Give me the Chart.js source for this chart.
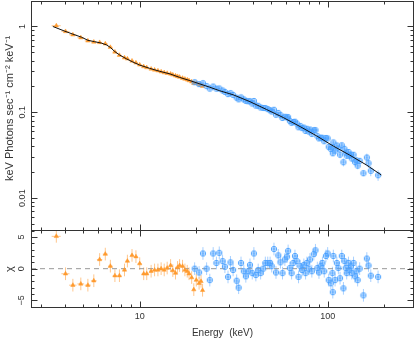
<!DOCTYPE html>
<html>
<head>
<meta charset="utf-8">
<script src="https://cdn.jsdelivr.net/npm/chart.js@4.4.1/dist/chart.umd.min.js"></script>
<style>
  html, body { margin: 0; padding: 0; background: #fff; }
  #wrap { position: relative; width: 415px; height: 342px; }
  canvas { position: absolute; left: 0; }
  #top { top: 0; }
  #bot { top: 230px; }
</style>
</head>
<body>
<div id="wrap">
  <canvas id="top" width="415" height="232"></canvas>
  <canvas id="bot" width="415" height="112"></canvas>
</div>
<script>
// axis limits
const E_MIN = 2.64, E_MAX = 288;
const F_MIN = 0.00414, F_MAX = 1.98;
const CHI_MIN = -6.2, CHI_MAX = 6.1;

// model curve
const modelE = [3.45, 4.0, 4.4, 4.9, 5.3, 5.75, 6.25, 6.65, 6.98, 7.37, 7.82, 8.5, 9.2, 10, 11.3, 12.8, 14.5, 16.3, 18.5, 20.9, 23.6, 26.7, 31.4, 38.6, 47.2, 58, 71.5, 87.5, 107, 131, 161, 193];
const modelF = [1.0, 0.88, 0.815, 0.75, 0.69, 0.665, 0.64, 0.61, 0.57, 0.51, 0.465, 0.42, 0.385, 0.355, 0.325, 0.30, 0.28, 0.255, 0.234, 0.214, 0.196, 0.178, 0.16, 0.133, 0.108, 0.087, 0.068, 0.053, 0.0405, 0.0317, 0.0243, 0.0186];

// low-energy instrument (orange)
const orangeE = [3.6, 4.03, 4.41, 4.86, 5.3, 5.7, 6.12, 6.56, 6.98, 7.38, 7.8, 8.3, 8.6, 9.1, 9.55, 10.0, 10.5, 10.9, 11.5, 12.0, 12.5, 13.0, 13.5, 14.0, 14.6, 15.0, 15.5, 15.9, 16.3, 16.9, 17.4, 17.9, 18.3, 18.9, 19.4, 20.0, 20.7, 21.2, 21.6];
const orangeEErr = [0.2, 0.2, 0.2, 0.2, 0.2, 0.2, 0.2, 0.2, 0.2, 0.2, 0.2, 0.2, 0.2, 0.2, 0.2, 0.25, 0.25, 0.25, 0.25, 0.25, 0.25, 0.25, 0.25, 0.3, 0.3, 0.3, 0.3, 0.3, 0.3, 0.3, 0.3, 0.35, 0.35, 0.35, 0.35, 0.35, 0.35, 0.35, 0.35];
const orangeFlux = [1.02, 0.875, 0.80, 0.74, 0.68, 0.66, 0.652, 0.628, 0.572, 0.505, 0.462, 0.432, 0.42, 0.397, 0.377, 0.357, 0.341, 0.332, 0.32, 0.312, 0.305, 0.297, 0.29, 0.285, 0.28, 0.273, 0.266, 0.262, 0.257, 0.25, 0.244, 0.239, 0.234, 0.227, 0.218, 0.219, 0.211, 0.207, 0.201];
const orangeRes = [5.1, -0.8, -2.6, -2.4, -2.6, -1.9, 1.45, 2.3, 0.4, -1.1, -1.1, -0.2, 1.2, 2.1, 1.9, 0.8, -0.8, -0.8, -0.4, -0.2, -0.2, 0, -0.2, 0.1, 0.5, -0.3, -0.7, 0.2, 0.5, 0.4, -0.2, -0.4, -0.8, -1.4, -3.3, -1.8, -2.3, -2.0, -3.4];

// high-energy instrument (blue)
const blueE = [19.6, 20.7, 21.7, 22.7, 23.6, 24.6, 25.6, 26.5, 27.6, 28.4, 29.5, 30.4, 31.4, 32.8, 33.6, 34.6, 35.8, 36.7, 37.8, 38.6, 39.7, 40.5, 41.5, 42.7, 44.0, 45.4, 46.6, 48.0, 49.4, 50.4, 51.8, 53.1, 54.6, 56.1, 57.5, 59.2, 60.8, 61.6, 62.9, 64.3, 65.6, 67.0, 68.5, 70.0, 71.5, 73.1, 74.7, 76.3, 77.5, 79.5, 80.5, 82.4, 84.4, 86.1, 88.1, 89.9, 91.9, 93.8, 95.9, 97.9, 100, 101.3, 104, 106, 106.5, 107.2, 109.5, 111.9, 114, 116.4, 118.9, 121.3, 122.8, 124.8, 126.3, 129, 130.4, 132.8, 134.4, 137.3, 139.8, 142, 144.4, 148, 155, 161.6, 165, 169.6, 185.5];
const blueFlux = [0.224, 0.213, 0.218, 0.202, 0.189, 0.1995, 0.1884, 0.1896, 0.1797, 0.1729, 0.163, 0.167, 0.1594, 0.148, 0.1415, 0.1492, 0.1412, 0.1359, 0.1344, 0.1346, 0.1264, 0.1356, 0.1196, 0.119, 0.1136, 0.1123, 0.1122, 0.109, 0.1058, 0.102, 0.107, 0.0937, 0.0984, 0.0927, 0.0859, 0.0886, 0.087, 0.0878, 0.0793, 0.0754, 0.0772, 0.0777, 0.074, 0.0669, 0.0694, 0.0655, 0.0663, 0.0606, 0.0643, 0.0596, 0.063, 0.056, 0.0618, 0.0619, 0.0528, 0.0496, 0.0506, 0.0505, 0.046, 0.0502, 0.0496, 0.0396, 0.0373, 0.0396, 0.0333, 0.0446, 0.0358, 0.0411, 0.0378, 0.0321, 0.0413, 0.0262, 0.0375, 0.0339, 0.0312, 0.0345, 0.0313, 0.0321, 0.029, 0.032, 0.0263, 0.0276, 0.0239, 0.0272, 0.0195, 0.0297, 0.0255, 0.0208, 0.0185];
const blueFluxErr = [0.0045, 0.0043, 0.0042, 0.004, 0.0039, 0.0038, 0.0037, 0.0036, 0.0035, 0.0034, 0.0033, 0.0033, 0.0032, 0.0031, 0.003, 0.0029, 0.0028, 0.0028, 0.0027, 0.0027, 0.0039, 0.0038, 0.0037, 0.0036, 0.0035, 0.0034, 0.0033, 0.0032, 0.0031, 0.003, 0.0029, 0.0029, 0.0028, 0.0027, 0.0026, 0.0025, 0.0025, 0.0024, 0.0024, 0.0023, 0.0023, 0.0022, 0.0021, 0.0021, 0.0034, 0.0033, 0.0032, 0.0031, 0.0031, 0.003, 0.0029, 0.0029, 0.0028, 0.0027, 0.0026, 0.0026, 0.0025, 0.0024, 0.0023, 0.0023, 0.0022, 0.0022, 0.0021, 0.0021, 0.002, 0.002, 0.002, 0.0031, 0.003, 0.0029, 0.0028, 0.0028, 0.0027, 0.0027, 0.0026, 0.0026, 0.0025, 0.0025, 0.0025, 0.0024, 0.0023, 0.0023, 0.0022, 0.0022, 0.0015, 0.0033, 0.003, 0.0028, 0.0026];
const blueRes = [0, -0.6, 2.4, 0, -1.8, 2.4, 0.9, 2.5, 1.2, 0.3, -1.3, 1.0, -0.2, -1.9, -3.0, 0.9, -0.4, -1.2, -0.4, 0.6, -0.7, 2.4, -1.0, -0.2, -0.7, 0, 0.9, 0.9, 0.9, 0.4, 3.1, -0.6, 2.1, 1.0, -0.7, 1.45, 1.9, 2.8, 0.1, -0.7, 0.9, 2.0, 1.2, -1.3, 0.4, -0.2, 0.6, -0.7, 0.9, 0, 1.45, -0.4, 2.3, 2.9, 0.1, -0.6, 0.4, 0.9, -0.4, 2.0, 2.4, -1.8, -2.3, -0.7, -3.7, 2.0, -1.8, 0.9, 0.1, -1.5, 2.0, -3.1, 1.2, 0.1, -0.7, 0.9, -0.2, 0.4, -0.7, 0.9, -1.2, -0.4, -1.8, 0, -4.2, 1.6, 0.5, -1.1, -1.3];
const RES_ERR = 1;

const ORANGE = '#ff9a2e', ORANGE_BAR = '#ffc68c';
const BLUE = '#4aa0ff', BLUE_BAR = '#a8d0ff';
const INK = '#333';

Chart.defaults.font.family = '"Liberation Sans", Arial, sans-serif';
Chart.defaults.color = INK;

const pts = (xs, ys) => xs.map((x, i) => ({ x, y: ys[i] }));
const at = (v, i) => Array.isArray(v) ? v[i] : v;

function ringPlus(color) {
  const c = document.createElement('canvas');
  c.width = c.height = 8;
  const g = c.getContext('2d');
  g.strokeStyle = color; g.lineWidth = 0.9;
  g.beginPath();
  g.arc(4, 4, 2.7, 0, Math.PI * 2);
  g.moveTo(4, 1.3); g.lineTo(4, 6.7);
  g.moveTo(1.3, 4); g.lineTo(6.7, 4);
  g.stroke();
  return c;
}

function logTicks(min, max) {
  const out = [];
  for (let e = Math.floor(Math.log10(min)); e <= Math.ceil(Math.log10(max)); e++)
    for (let m = 1; m < 10; m++) {
      const v = m * Math.pow(10, e);
      if (v >= min && v <= max) out.push({ v, major: m === 1 });
    }
  return out;
}
function linTicks(min, max) {
  const out = [];
  for (let v = Math.ceil(min); v <= Math.floor(max); v++) out.push({ v, major: v % 5 === 0 });
  return out;
}
function decadeLabel(v) {
  const e = Math.log10(v), r = Math.round(e);
  if (Math.abs(e - r) > 1e-6) return '';
  return r >= 0 ? String(Math.pow(10, r)) : Math.pow(10, r).toFixed(-r);
}
// keep the plot box exactly where the layout padding puts it
function noLabelPadding(s) {
  s.paddingTop = s.paddingBottom = s.paddingLeft = s.paddingRight = 0;
}

// error bars, drawn under the markers
const errorBars = {
  id: 'errorBars',
  beforeDatasetsDraw(chart) {
    const { ctx, chartArea: a, scales: { x, y } } = chart;
    ctx.save();
    ctx.beginPath(); ctx.rect(a.left, a.top, a.right - a.left, a.bottom - a.top); ctx.clip();
    ctx.lineWidth = 1;
    chart.data.datasets.forEach(ds => {
      if (ds.errX == null && ds.errY == null) return;
      ctx.strokeStyle = ds.barColor;
      ctx.beginPath();
      ds.data.forEach((p, i) => {
        const px = x.getPixelForValue(p.x), py = y.getPixelForValue(p.y);
        if (ds.errY != null) {
          const d = at(ds.errY, i);
          ctx.moveTo(px, y.getPixelForValue(p.y + d));
          ctx.lineTo(px, y.getPixelForValue(Math.max(p.y - d, y.min)));
        }
        if (ds.errX != null) {
          const d = at(ds.errX, i);
          ctx.moveTo(x.getPixelForValue(p.x - d), py);
          ctx.lineTo(x.getPixelForValue(p.x + d), py);
        }
      });
      ctx.stroke();
    });
    ctx.restore();
  }
};

// box with inward ticks on all four sides
const frame = {
  id: 'frame',
  afterDraw(chart) {
    const { ctx, chartArea: a, scales: { x, y } } = chart;
    const L = a.left + 0.5, R = a.right - 0.5, T = a.top + 0.5, B = a.bottom - 0.5;
    ctx.save();
    ctx.strokeStyle = INK; ctx.lineWidth = 1;
    ctx.strokeRect(L, T, R - L, B - T);
    ctx.beginPath();
    logTicks(x.min, x.max).forEach(t => {
      const px = Math.round(x.getPixelForValue(t.v)) + 0.5, len = t.major ? 6 : 3;
      ctx.moveTo(px, T); ctx.lineTo(px, T + len);
      ctx.moveTo(px, B); ctx.lineTo(px, B - len);
    });
    const yt = y.type === 'logarithmic' ? logTicks(y.min, y.max) : linTicks(y.min, y.max);
    yt.forEach(t => {
      const py = Math.round(y.getPixelForValue(t.v)) + 0.5, len = t.major ? 6 : 3;
      ctx.moveTo(L, py); ctx.lineTo(L + len, py);
      ctx.moveTo(R, py); ctx.lineTo(R - len, py);
    });
    ctx.stroke();
    ctx.restore();
  }
};

const commonOpts = {
  responsive: false,
  animation: false,
  devicePixelRatio: 1,
  plugins: { legend: { display: false }, tooltip: { enabled: false } }
};

new Chart(document.getElementById('top'), {
  type: 'scatter',
  data: {
    datasets: [
      { type: 'line', data: pts(modelE, modelF), borderColor: '#111', borderWidth: 1, pointRadius: 0, order: 0 },
      { data: pts(blueE, blueFlux), errY: blueFluxErr, barColor: BLUE_BAR,
        pointStyle: ringPlus(BLUE), pointRadius: 3, order: 1 },
      { data: pts(orangeE, orangeFlux), errX: orangeEErr, barColor: ORANGE_BAR,
        pointStyle: 'triangle', pointRadius: 2.5, backgroundColor: ORANGE, borderColor: ORANGE, borderWidth: 0.5, order: 2 }
    ]
  },
  options: {
    ...commonOpts,
    layout: { autoPadding: false, padding: { left: 0, right: 1, top: 1, bottom: 1 } },
    scales: {
      x: { type: 'logarithmic', min: E_MIN, max: E_MAX, display: false },
      y: {
        type: 'logarithmic', min: F_MIN, max: F_MAX, position: 'left',
        grid: { display: false, drawTicks: false }, border: { display: false },
        ticks: { autoSkip: false, minRotation: 90, maxRotation: 90, crossAlign: 'center', padding: 0,
                 font: { size: 9 }, callback: v => decadeLabel(v) },
        title: { display: true,
                 text: '\u00A0\u00A0\u00A0\u00A0\u00A0keV Photons sec\u207B\u00B9 cm\u207B\u00B2 keV\u207B\u00B9',
                 font: { size: 11 }, padding: { top: 3, bottom: 0 } },
        afterFit: s => { s.width = 31; noLabelPadding(s); }
      }
    }
  },
  plugins: [errorBars, frame]
});

new Chart(document.getElementById('bot'), {
  type: 'scatter',
  data: {
    datasets: [
      { data: pts(blueE, blueRes), errY: RES_ERR, barColor: BLUE_BAR,
        pointStyle: ringPlus(BLUE), pointRadius: 3, order: 1 },
      { data: pts(orangeE, orangeRes), errY: RES_ERR, errX: orangeEErr, barColor: ORANGE_BAR,
        pointStyle: 'triangle', pointRadius: 2.5, backgroundColor: ORANGE, borderColor: ORANGE, borderWidth: 0.5, order: 2 },
      { type: 'line', data: [{ x: E_MIN, y: 0 }, { x: E_MAX, y: 0 }], borderColor: '#999', borderWidth: 1,
        borderDash: [5, 4], pointRadius: 0, order: 3 }
    ]
  },
  options: {
    ...commonOpts,
    layout: { autoPadding: false, padding: { left: 0, right: 1, top: 0, bottom: 0 } },
    scales: {
      x: {
        type: 'logarithmic', min: E_MIN, max: E_MAX, position: 'bottom',
        grid: { display: false, drawTicks: false }, border: { display: false },
        ticks: { autoSkip: false, maxRotation: 0, padding: 3, font: { size: 9 },
                 callback: v => (decadeLabel(v) === '10' || decadeLabel(v) === '100') ? decadeLabel(v) : '' },
        title: { display: true, text: 'Energy  (keV)', font: { size: 10 }, padding: { top: 0, bottom: 3 } },
        afterFit: s => { s.height = 34; noLabelPadding(s); }
      },
      y: {
        type: 'linear', min: CHI_MIN, max: CHI_MAX, position: 'left',
        grid: { display: false, drawTicks: false }, border: { display: false },
        ticks: { stepSize: 5, includeBounds: false, autoSkip: false, minRotation: 90, maxRotation: 90,
                 crossAlign: 'center', padding: 4, font: { size: 9 },
                 callback: v => v % 5 === 0 ? String(v).replace('-', '\u2212') : '' },
        title: { display: true, text: '\u03C7', font: { size: 11 }, padding: { top: 3, bottom: 0 } },
        afterFit: s => { s.width = 31; noLabelPadding(s); }
      }
    }
  },
  plugins: [errorBars, frame]
});
</script>
</body>
</html>
